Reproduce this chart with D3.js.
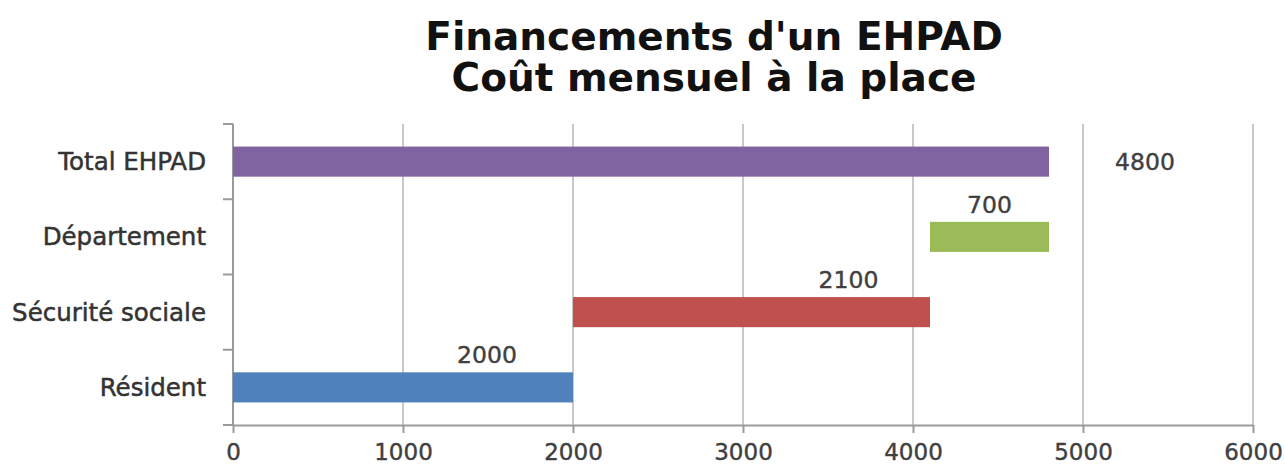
<!DOCTYPE html>
<html>
<head>
<meta charset="utf-8">
<script src="https://cdn.jsdelivr.net/npm/d3@7"></script>
<style>
  body { margin: 0; background: #fff; }
  svg { display: block; }
</style>
</head>
<body>
<svg id="js-svg" width="1285" height="468"></svg>
<script>
// waterfall data, top row first
const categories = ["Total EHPAD", "Département", "Sécurité sociale", "Résident"];
const starts = [0, 4100, 2000, 0];
const values = [4800, 700, 2100, 2000];
const colors = ["#8064a2", "#9bbb59", "#c0504d", "#4f81bd"];
const xTicks = [0, 1000, 2000, 3000, 4000, 5000, 6000];
const titleLines = ["Financements d'un EHPAD", "Coût mensuel à la place"];

const plotLeft = 233, plotRight = 1253, plotTop = 124, plotBottom = 425;
const font = "'DejaVu Sans', sans-serif";

const svg = d3.select("#js-svg");

const x = d3.scaleLinear().domain([0, 6000]).range([plotLeft, plotRight]);
const y = d3.scaleBand()
  .domain(categories)
  .range([plotTop, plotBottom])
  .paddingInner(0.6)
  .paddingOuter(0.3);

// title
svg.append("g")
  .selectAll("text")
  .data(titleLines)
  .join("text")
  .attr("x", 714)
  .attr("y", (d, i) => 50 + i * 41)
  .attr("text-anchor", "middle")
  .style("font-family", font)
  .style("font-weight", "bold")
  .style("font-size", "39px")
  .style("fill", "#111")
  .text(d => d);

// vertical gridlines
svg.append("g")
  .selectAll("line")
  .data(xTicks.slice(1))
  .join("line")
  .attr("x1", d => x(d))
  .attr("x2", d => x(d))
  .attr("y1", plotTop)
  .attr("y2", plotBottom)
  .style("stroke", "#c9c9c9")
  .style("stroke-width", "2px");

// x axis
const xAxis = svg.append("g")
  .attr("transform", `translate(0, ${plotBottom})`)
  .call(d3.axisBottom(x)
    .tickValues(xTicks)
    .tickFormat(d3.format("d"))
    .tickSize(8)
    .tickSizeOuter(0)
    .tickPadding(11));
xAxis.select(".domain").style("stroke", "#9a9a9a").style("stroke-width", "2px");
xAxis.selectAll(".tick line").style("stroke", "#9a9a9a").style("stroke-width", "2px");
xAxis.selectAll(".tick text")
  .attr("dy", "0.71em")
  .style("font-family", font)
  .style("font-size", "23px")
  .style("fill", "#404040")
  .style("stroke", "#404040")
  .style("stroke-width", "0.4px");

// y axis line and ticks at row boundaries
const step = y.step();
const boundaries = categories.map(c => y(c) - step * y.paddingInner() / 2).concat([plotBottom]);
svg.append("line")
  .attr("x1", plotLeft).attr("x2", plotLeft)
  .attr("y1", plotTop).attr("y2", plotBottom)
  .style("stroke", "#9a9a9a")
  .style("stroke-width", "2px");
svg.append("g")
  .selectAll("line")
  .data(boundaries)
  .join("line")
  .attr("x1", plotLeft - 10)
  .attr("x2", plotLeft)
  .attr("y1", d => d)
  .attr("y2", d => d)
  .style("stroke", "#9a9a9a")
  .style("stroke-width", "2px");

// category labels
svg.append("g")
  .selectAll("text")
  .data(categories)
  .join("text")
  .attr("x", 206)
  .attr("y", d => y(d) + y.bandwidth() / 2)
  .attr("dy", "0.35em")
  .attr("text-anchor", "end")
  .style("font-family", font)
  .style("font-size", "24.5px")
  .style("fill", "#333")
  .style("stroke", "#333")
  .style("stroke-width", "0.5px")
  .text(d => d);

// bars
svg.append("g")
  .selectAll("rect")
  .data(categories)
  .join("rect")
  .attr("x", (d, i) => x(starts[i]))
  .attr("y", d => y(d))
  .attr("width", (d, i) => x(starts[i] + values[i]) - x(starts[i]))
  .attr("height", y.bandwidth())
  .style("fill", (d, i) => colors[i]);

// data labels (moved by hand in the original, so nudged here)
const labelDx = { "Département": 0, "Sécurité sociale": 97, "Résident": 84 };
svg.append("g")
  .selectAll("text")
  .data(categories)
  .join("text")
  .attr("x", (d, i) => {
    const end = starts[i] + values[i];
    if (i === 0) return x(end) + 96;
    return x(starts[i] + values[i] / 2) + labelDx[d];
  })
  .attr("y", (d, i) => i === 0 ? y(d) + y.bandwidth() / 2 : y(d) - 9)
  .attr("dy", (d, i) => i === 0 ? "0.35em" : "0")
  .attr("text-anchor", "middle")
  .style("font-family", font)
  .style("font-size", "23.5px")
  .style("fill", "#404040")
  .style("stroke", "#404040")
  .style("stroke-width", "0.4px")
  .text((d, i) => values[i]);
</script>
</body>
</html>
